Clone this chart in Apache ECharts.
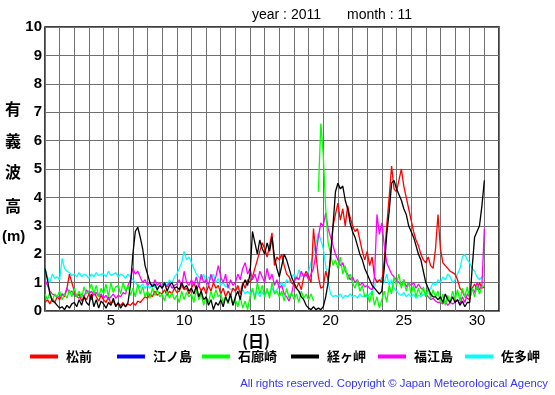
<!DOCTYPE html>
<html>
<head>
<meta charset="utf-8">
<script src="https://cdn.jsdelivr.net/npm/echarts@6/dist/echarts.min.js"></script>
<style>
html,body{margin:0;padding:0;background:#fff;}
#chart{width:555px;height:395px;}
</style>
</head>
<body>
<div id="chart"></div>
<script>
// Time step: 4 hours (6 values per day), starting Nov 1 00:00 (day 0), ending day 30.
const stepPerDay = 6;
const stations = ['松前', '江ノ島', '石廊崎', '経ヶ岬', '福江島', '佐多岬'];
const colors = ['#ff0000', '#0000ff', '#00ff00', '#000000', '#ff00ff', '#00ffff'];
const xTickLabels = ['5', '10', '15', '20', '25', '30'];

const matsumae = [
 0.3,0.4,0.25,0.45,0.3,0.5,
 0.4,0.6,0.5,0.8,1.3,1.0,
 0.7,0.5,0.6,0.35,0.5,0.4,
 0.6,0.4,0.7,0.5,0.35,0.55,
 0.4,0.3,0.5,0.25,0.35,0.2,
 0.25,0.2,0.3,0.15,0.25,0.2,
 0.3,0.2,0.35,0.3,0.4,0.5,
 0.45,0.6,0.5,0.7,0.55,0.65,
 0.6,0.75,0.55,0.7,0.6,0.8,
 0.65,0.7,0.9,0.75,0.8,0.6,
 0.8,1.0,0.75,0.9,0.7,0.85,
 0.6,0.9,0.7,1.0,0.8,0.9,
 0.6,0.8,0.5,0.7,0.55,0.8,
 0.7,0.9,0.6,1.0,0.8,1.1,
 1.0,1.2,1.5,1.8,2.1,2.4,
 2.2,1.9,2.3,2.75,1.6,1.9,
 1.8,2.0,1.6,1.3,1.2,1.0,
 0.9,0.8,1.0,0.75,1.2,1.4,
 1.2,1.0,2.9,2.0,1.2,0.8,
 0.85,1.4,1.1,1.8,3.0,3.4,
 3.8,3.2,3.6,3.0,3.7,3.3,
 3.0,2.8,2.9,2.5,2.1,1.8,
 2.1,1.6,1.9,1.2,1.0,1.1,
 1.0,1.8,3.0,4.0,5.1,4.3,
 4.2,4.6,5.0,4.4,4.0,3.6,
 3.2,2.8,2.5,2.3,2.0,1.8,
 1.7,1.9,1.6,1.5,2.2,3.4,
 2.2,1.7,1.6,1.5,1.4,1.35,
 1.3,1.1,0.8,0.7,0.5,0.45,
 0.4,0.8,0.95,0.75,1.0,0.8,
 0.85
];
const enoshima = [];
const irozaki = [
 0.6,0.4,0.65,0.35,0.6,0.5,
 0.7,0.4,0.6,0.45,0.75,0.5,
 0.8,0.5,0.7,0.45,0.85,0.6,
 0.7,0.95,0.6,0.9,0.5,0.8,
 0.6,0.95,0.5,1.0,0.65,0.85,
 0.9,0.6,1.0,0.7,0.9,0.55,
 0.8,0.5,0.95,0.6,0.85,0.5,
 0.7,0.45,0.8,0.55,0.75,0.5,
 0.6,0.35,0.7,0.45,0.65,0.4,
 0.55,0.3,0.7,0.4,0.65,0.5,
 0.6,0.3,0.75,0.4,0.6,0.2,
 0.5,0.3,0.7,0.4,0.75,0.5,
 0.6,0.3,0.5,0.25,0.55,0.2,
 0.4,0.15,0.5,0.1,0.35,0.05,
 0.5,0.8,0.4,1.0,0.6,0.9,
 0.5,0.8,0.45,1.0,0.6,0.7,
 0.5,0.7,0.35,0.8,0.45,0.65,
 0.4,0.6,0.3,0.7,0.45,0.6,
 0.4,0.6,0.35,null,4.2,6.6,
 5.5,3.6,2.4,2.0,1.6,1.8,
 1.5,1.9,1.3,1.6,1.1,1.3,
 1.0,0.8,1.1,0.7,0.9,0.5,
 0.6,0.3,0.7,0.2,0.5,0.1,
 0.4,0.7,0.3,0.9,0.6,1.2,
 0.9,1.3,0.8,1.1,0.7,1.0,
 0.6,0.9,0.5,0.8,0.55,0.85,
 0.5,0.8,0.45,0.75,0.5,0.7,
 0.3,0.6,0.2,0.55,0.3,0.7,
 0.4,0.75,0.35,0.8,0.5,0.85,
 0.45,0.8,0.5,0.9,0.6,0.85,
 0.9
];
const kyogamisaki = [
 1.5,1.1,0.6,0.35,0.3,0.2,
 0.1,0.15,0.05,0.2,0.1,0.25,
 0.3,0.15,0.4,0.2,0.5,0.3,
 0.2,0.6,0.15,0.4,0.1,0.35,
 0.25,0.1,0.3,0.2,0.45,0.15,
 0.3,0.1,0.25,0.15,0.3,0.9,
 2.0,2.8,2.95,2.6,2.2,1.6,
 1.3,1.0,0.85,0.95,0.75,0.9,
 0.8,1.0,0.7,0.9,1.0,0.8,
 0.85,0.75,1.0,0.8,0.9,0.7,
 0.8,0.6,0.9,0.5,0.7,0.4,
 0.5,0.2,0.4,0.05,0.3,0.2,
 0.4,0.15,0.5,0.3,0.6,0.2,
 0.5,0.7,0.4,0.9,1.1,0.9,
 1.3,2.8,2.4,2.0,2.5,2.2,
 2.0,2.4,2.1,2.6,1.9,1.5,
 1.2,1.6,2.0,1.8,1.5,1.2,
 1.0,0.8,0.7,0.5,0.4,0.2,
 0.1,0.05,0.15,0.05,0.1,0.05,
 0.15,0.5,1.0,2.0,3.0,4.2,
 4.5,4.3,4.4,3.9,3.6,3.1,
 2.8,2.6,2.3,2.0,1.8,1.5,
 1.3,1.1,0.9,0.8,0.7,0.6,
 0.7,1.5,2.7,3.5,4.5,4.6,
 4.3,4.1,3.9,3.6,3.4,3.0,
 2.8,2.6,2.3,2.0,1.8,1.4,
 1.0,0.8,0.6,0.5,0.5,0.4,
 0.5,0.3,0.6,0.4,0.3,0.5,
 0.3,0.4,0.2,0.35,0.15,0.3,
 0.3,1.5,2.6,2.8,3.0,3.7,
 4.6
];
const fukuejima = [
 1.1,0.9,0.7,0.6,0.55,0.5,
 0.5,0.6,0.55,0.8,0.65,0.7,
 0.55,0.5,0.45,0.6,0.5,0.75,
 0.6,0.7,0.55,0.65,0.5,0.6,
 0.45,0.55,0.4,0.5,0.6,0.45,
 0.55,0.5,0.65,0.6,0.9,1.1,
 1.5,1.3,1.4,1.2,1.0,1.1,
 0.9,1.0,0.85,1.1,0.9,1.0,
 0.8,0.95,0.85,1.0,0.8,0.9,
 0.95,1.1,0.85,1.4,1.0,0.9,
 1.1,0.9,1.2,0.85,1.3,1.0,
 1.1,0.9,1.3,1.0,1.2,1.6,
 1.2,1.0,1.3,0.8,1.1,0.9,
 1.0,1.3,1.1,1.5,1.7,1.3,
 1.5,1.1,1.3,1.0,1.4,1.2,
 1.0,1.5,1.1,1.3,0.9,1.1,
 0.8,0.9,0.6,0.5,0.35,0.6,
 1.0,1.2,1.1,1.4,1.2,1.3,
 1.1,1.3,1.5,2.0,2.6,3.1,
 3.0,3.45,2.9,2.6,2.3,2.0,
 1.8,1.6,1.7,1.4,1.3,1.1,
 1.2,1.0,1.1,0.9,1.0,0.85,
 0.9,0.8,0.75,1.2,3.4,2.7,
 3.1,2.3,1.7,1.5,1.3,1.2,
 1.1,1.0,0.9,1.1,0.85,1.0,
 0.9,1.0,0.8,0.95,0.8,0.75,
 0.6,0.5,0.4,0.45,0.35,0.3,
 0.3,0.25,0.35,0.2,0.3,0.25,
 0.3,0.4,0.25,0.5,0.3,0.6,
 0.5,0.8,0.65,1.0,0.75,0.9,
 2.9
];
const satamisaki = [
 1.5,1.2,1.0,1.3,1.15,1.2,
 1.1,1.85,1.5,1.4,1.35,1.25,
 1.3,1.2,1.35,1.2,1.3,1.25,
 1.15,1.3,1.2,1.35,1.25,1.3,
 1.3,1.2,1.4,1.25,1.3,1.35,
 1.2,1.3,1.25,1.15,1.3,1.2,
 1.1,1.0,0.9,0.85,0.95,0.8,
 0.9,0.8,0.95,0.85,0.8,0.9,
 0.85,1.0,0.9,1.1,0.95,1.2,
 1.3,1.5,1.7,2.1,1.8,1.9,
 1.7,1.5,1.3,1.2,1.1,1.3,
 1.0,1.2,1.1,1.3,1.0,1.15,
 0.9,1.0,0.85,0.9,0.75,0.8,
 0.7,0.8,0.65,0.75,0.6,0.7,
 0.6,0.75,0.55,0.7,0.5,0.65,
 0.55,0.7,0.6,0.8,0.65,0.75,
 0.9,1.0,0.85,1.1,1.0,1.2,
 1.3,1.1,1.45,1.2,1.3,1.2,
 1.4,1.7,2.0,2.4,2.75,2.5,
 2.2,1.6,1.0,0.6,0.5,0.55,
 0.5,0.6,0.45,0.55,0.5,0.6,
 0.5,0.55,0.45,0.6,0.5,0.55,
 0.5,0.6,0.7,0.9,1.1,1.0,
 1.2,1.0,1.3,0.9,1.1,0.8,
 0.7,0.6,0.55,0.65,0.5,0.6,
 0.5,0.6,0.45,0.55,0.5,0.6,
 0.55,0.7,0.8,1.0,0.9,1.1,
 1.0,1.2,1.1,1.3,1.2,1.0,
 1.1,1.3,1.5,1.9,2.0,1.8,
 1.7,1.5,1.4,1.2,1.1,1.2,
 1.2
];
const seriesValues = [matsumae, enoshima, irozaki, kyogamisaki, fukuejima, satamisaki];

function toPairs(arr) {
  return arr.map((v, i) => [i / stepPerDay, v]);
}

const legendLeft = [30, 117, 202, 291, 378, 465];
const jpFont = '"Noto Sans CJK JP", sans-serif';

const chart = echarts.init(document.getElementById('chart'), null, {renderer: 'canvas'});
const option = {
  animation: false,
  backgroundColor: '#ffffff',
  grid: {
    left: 45, top: 27, right: 56, bottom: 84,
    show: true, borderColor: '#000', borderWidth: 1.5, backgroundColor: 'transparent'
  },
  xAxis: [
    {
      type: 'value', min: 0, max: 31, interval: 1,
      axisLine: {show: false}, axisTick: {show: false}, axisLabel: {show: false},
      splitLine: {show: true, lineStyle: {color: '#707070', width: 1}}
    },
    {
      type: 'value', min: 0, max: 31, interval: 0.5, position: 'bottom',
      axisLine: {show: false}, axisTick: {show: false}, splitLine: {show: false},
      axisLabel: {
        show: true, margin: 2, color: '#000', fontSize: 15,
        fontFamily: '"Liberation Sans", Arial, sans-serif',
        formatter: function (v) {
          const d = Math.round((v + 0.5) * 2) / 2;
          const s = String(d);
          return xTickLabels.indexOf(s) >= 0 && Math.abs(v - (d - 0.5)) < 1e-6 ? s : '';
        }
      }
    }
  ],
  yAxis: {
    type: 'value', min: 0, max: 10, interval: 1,
    axisLine: {show: false}, axisTick: {show: false},
    axisLabel: {color: '#000', fontSize: 15, fontWeight: 'bold', margin: 3,
      fontFamily: '"Liberation Sans", Arial, sans-serif'},
    splitLine: {show: true, lineStyle: {color: '#707070', width: 1}}
  },
  legend: stations.map((name, i) => ({
    data: [{name: name, icon: 'rect'}],
    left: legendLeft[i], top: 350, padding: 0,
    itemWidth: 28, itemHeight: 4,
    textStyle: {fontSize: 13, fontWeight: 'bold', color: '#000', fontFamily: jpFont, padding: [0, 0, 0, 3]}
  })),
  graphic: [
    {type: 'text', left: 252, top: 8, style: {text: 'year : 2011', fontSize: 14, fill: '#000', fontFamily: '"Liberation Sans", Arial, sans-serif'}},
    {type: 'text', left: 347, top: 8, style: {text: 'month : 11', fontSize: 14, fill: '#000', fontFamily: '"Liberation Sans", Arial, sans-serif'}},
    {type: 'text', left: 5, top: 101, style: {text: '有', fontSize: 16, fontWeight: 'bold', fill: '#000', fontFamily: jpFont}},
    {type: 'text', left: 5, top: 133, style: {text: '義', fontSize: 16, fontWeight: 'bold', fill: '#000', fontFamily: jpFont}},
    {type: 'text', left: 5, top: 164, style: {text: '波', fontSize: 16, fontWeight: 'bold', fill: '#000', fontFamily: jpFont}},
    {type: 'text', left: 5, top: 198, style: {text: '高', fontSize: 16, fontWeight: 'bold', fill: '#000', fontFamily: jpFont}},
    {type: 'text', left: 2, top: 229, style: {text: '(m)', fontSize: 15, fontWeight: 'bold', fill: '#000', fontFamily: '"Liberation Sans", Arial, sans-serif'}},
    {type: 'text', left: 242, top: 333, style: {text: '(日)', fontSize: 16, fontWeight: 'bold', fill: '#000', fontFamily: jpFont}},
    {type: 'text', right: 7, top: 378, style: {text: 'All rights reserved. Copyright © Japan Meteorological Agency', fontSize: 11.3, fill: '#3333ff', fontFamily: '"Liberation Sans", Arial, sans-serif'}}
  ],
  series: stations.map((name, i) => ({
    name: name, type: 'line', xAxisIndex: 0, yAxisIndex: 0,
    data: toPairs(seriesValues[i]),
    showSymbol: false, symbol: 'none', connectNulls: false,
    color: colors[i],
    lineStyle: {width: 1.3, color: colors[i]},
    z: [3, 2, 4, 6, 3, 2][i]
  }))
};
chart.setOption(option);
</script>
</body>
</html>
